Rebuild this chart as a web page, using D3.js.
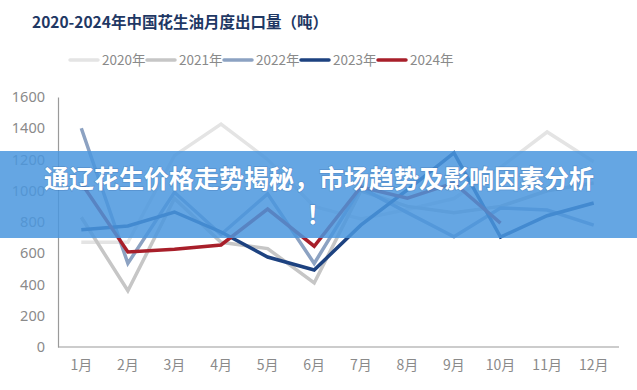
<!DOCTYPE html>
<html><head><meta charset="utf-8">
<script src="https://cdn.jsdelivr.net/npm/d3@7"></script>
<style>
html,body{margin:0;padding:0;background:#fff;}
svg{display:block;}
</style></head>
<body>
<script>
const title = "2020-2024年中国花生油月度出口量（吨）";
const months = ["1月","2月","3月","4月","5月","6月","7月","8月","9月","10月","11月","12月"];
const yTicks = [0,200,400,600,800,1000,1200,1400,1600];
const seriesNames = ["2020年","2021年","2022年","2023年","2024年"];
const seriesColors = ["#e4e4e4","#c6c6c6","#8ca2c2","#1d4280","#a81f2a"];
const s2020 = [670, 670, 1225, 1427, 1200, 900, 820, 880, 950, 1150, 1376, 1185];
const s2021 = [830, 360, 950, 670, 630, 410, 1000, 900, 860, 900, 1000, 1050];
const s2022 = [1400, 535, 990, 720, 980, 535, 1020, 860, 705, 890, 877, 780];
const s2023 = [750, 775, 864, 736, 576, 493, 780, 1005, 1242, 704, 840, 922];
const s2024 = [1050, 608, 625, 653, 883, 645, 1024, 953, 1050, 793];
const bannerLines = ["通辽花生价格走势揭秘，市场趋势及影响因素分析", "！"];

const W = 637, H = 390;
const svg = d3.select("body").append("svg").attr("width", W).attr("height", H);

const x = d3.scaleBand().domain(months).range([58, 617]);
const y = d3.scaleLinear().domain([0, 1600]).range([347, 97]);
const cx = m => x(m) + x.bandwidth() / 2;

// title
svg.append("text").attr("x", 32).attr("y", 28)
  .attr("font-family", "'Noto Sans CJK SC', sans-serif")
  .attr("font-weight", "bold").attr("font-size", 15.5)
  .attr("fill", "#1f3864").text(title);

// legend
const legStart = 70, legStep = 77;
seriesNames.forEach((n, i) => {
  const g = svg.append("g").attr("transform", `translate(${legStart + i * legStep},60)`);
  g.append("line").attr("x1", 0).attr("x2", 28).attr("y1", 0).attr("y2", 0)
    .attr("stroke", seriesColors[i]).attr("stroke-width", 3.5).attr("stroke-linecap", "round");
  g.append("text").attr("x", 32).attr("y", 5)
    .attr("font-family", "'Noto Sans CJK SC', 'Noto Sans', sans-serif")
    .attr("font-size", 13.5).attr("fill", "#8a8a8a").text(n);
});

// axes
const yAxis = svg.append("g").attr("transform", "translate(58,0)")
  .call(d3.axisLeft(y).tickValues(yTicks).tickFormat(d3.format("d")).tickSize(0).tickPadding(13));
yAxis.select(".domain").attr("stroke", "#9a9a9a").attr("stroke-width", 1.2);
yAxis.selectAll("text").attr("font-family", "'Noto Sans', sans-serif")
  .attr("font-size", 14.5).attr("fill", "#8a8a8a");

const xAxis = svg.append("g").attr("transform", "translate(0,347)")
  .call(d3.axisBottom(x).tickSize(0).tickPadding(13));
xAxis.select(".domain").attr("stroke", "#9a9a9a").attr("stroke-width", 1.2)
  .attr("d", "M58,0H619");
xAxis.selectAll("text").attr("font-family", "'Noto Sans CJK SC', 'Noto Sans', sans-serif")
  .attr("font-size", 14).attr("fill", "#8a8a8a");

// lines
const allSeries = [s2020, s2021, s2022, s2023, s2024];
const line = d3.line().x((d, i) => cx(months[i])).y(d => y(d));
allSeries.forEach((s, i) => {
  svg.append("path").datum(s).attr("d", line)
    .attr("fill", "none").attr("stroke", seriesColors[i])
    .attr("stroke-width", 3.5).attr("stroke-linejoin", "miter");
});

// banner overlay
svg.append("rect").attr("x", 0).attr("y", 151).attr("width", W).attr("height", 87)
  .attr("fill", "rgb(74,150,222)").attr("fill-opacity", 0.85);
const bannerY = [188, 224];
bannerLines.forEach((t, i) => {
  svg.append("text").attr("x", 319).attr("y", bannerY[i])
    .attr("text-anchor", "middle")
    .attr("font-family", "'Noto Sans CJK SC', sans-serif")
    .attr("font-weight", "bold").attr("font-size", 25)
    .attr("fill", "#ffffff")
    .style("paint-order", "stroke").attr("stroke", "rgba(40,80,140,0.25)").attr("stroke-width", 1.5)
    .text(t);
});
</script>
</body></html>
